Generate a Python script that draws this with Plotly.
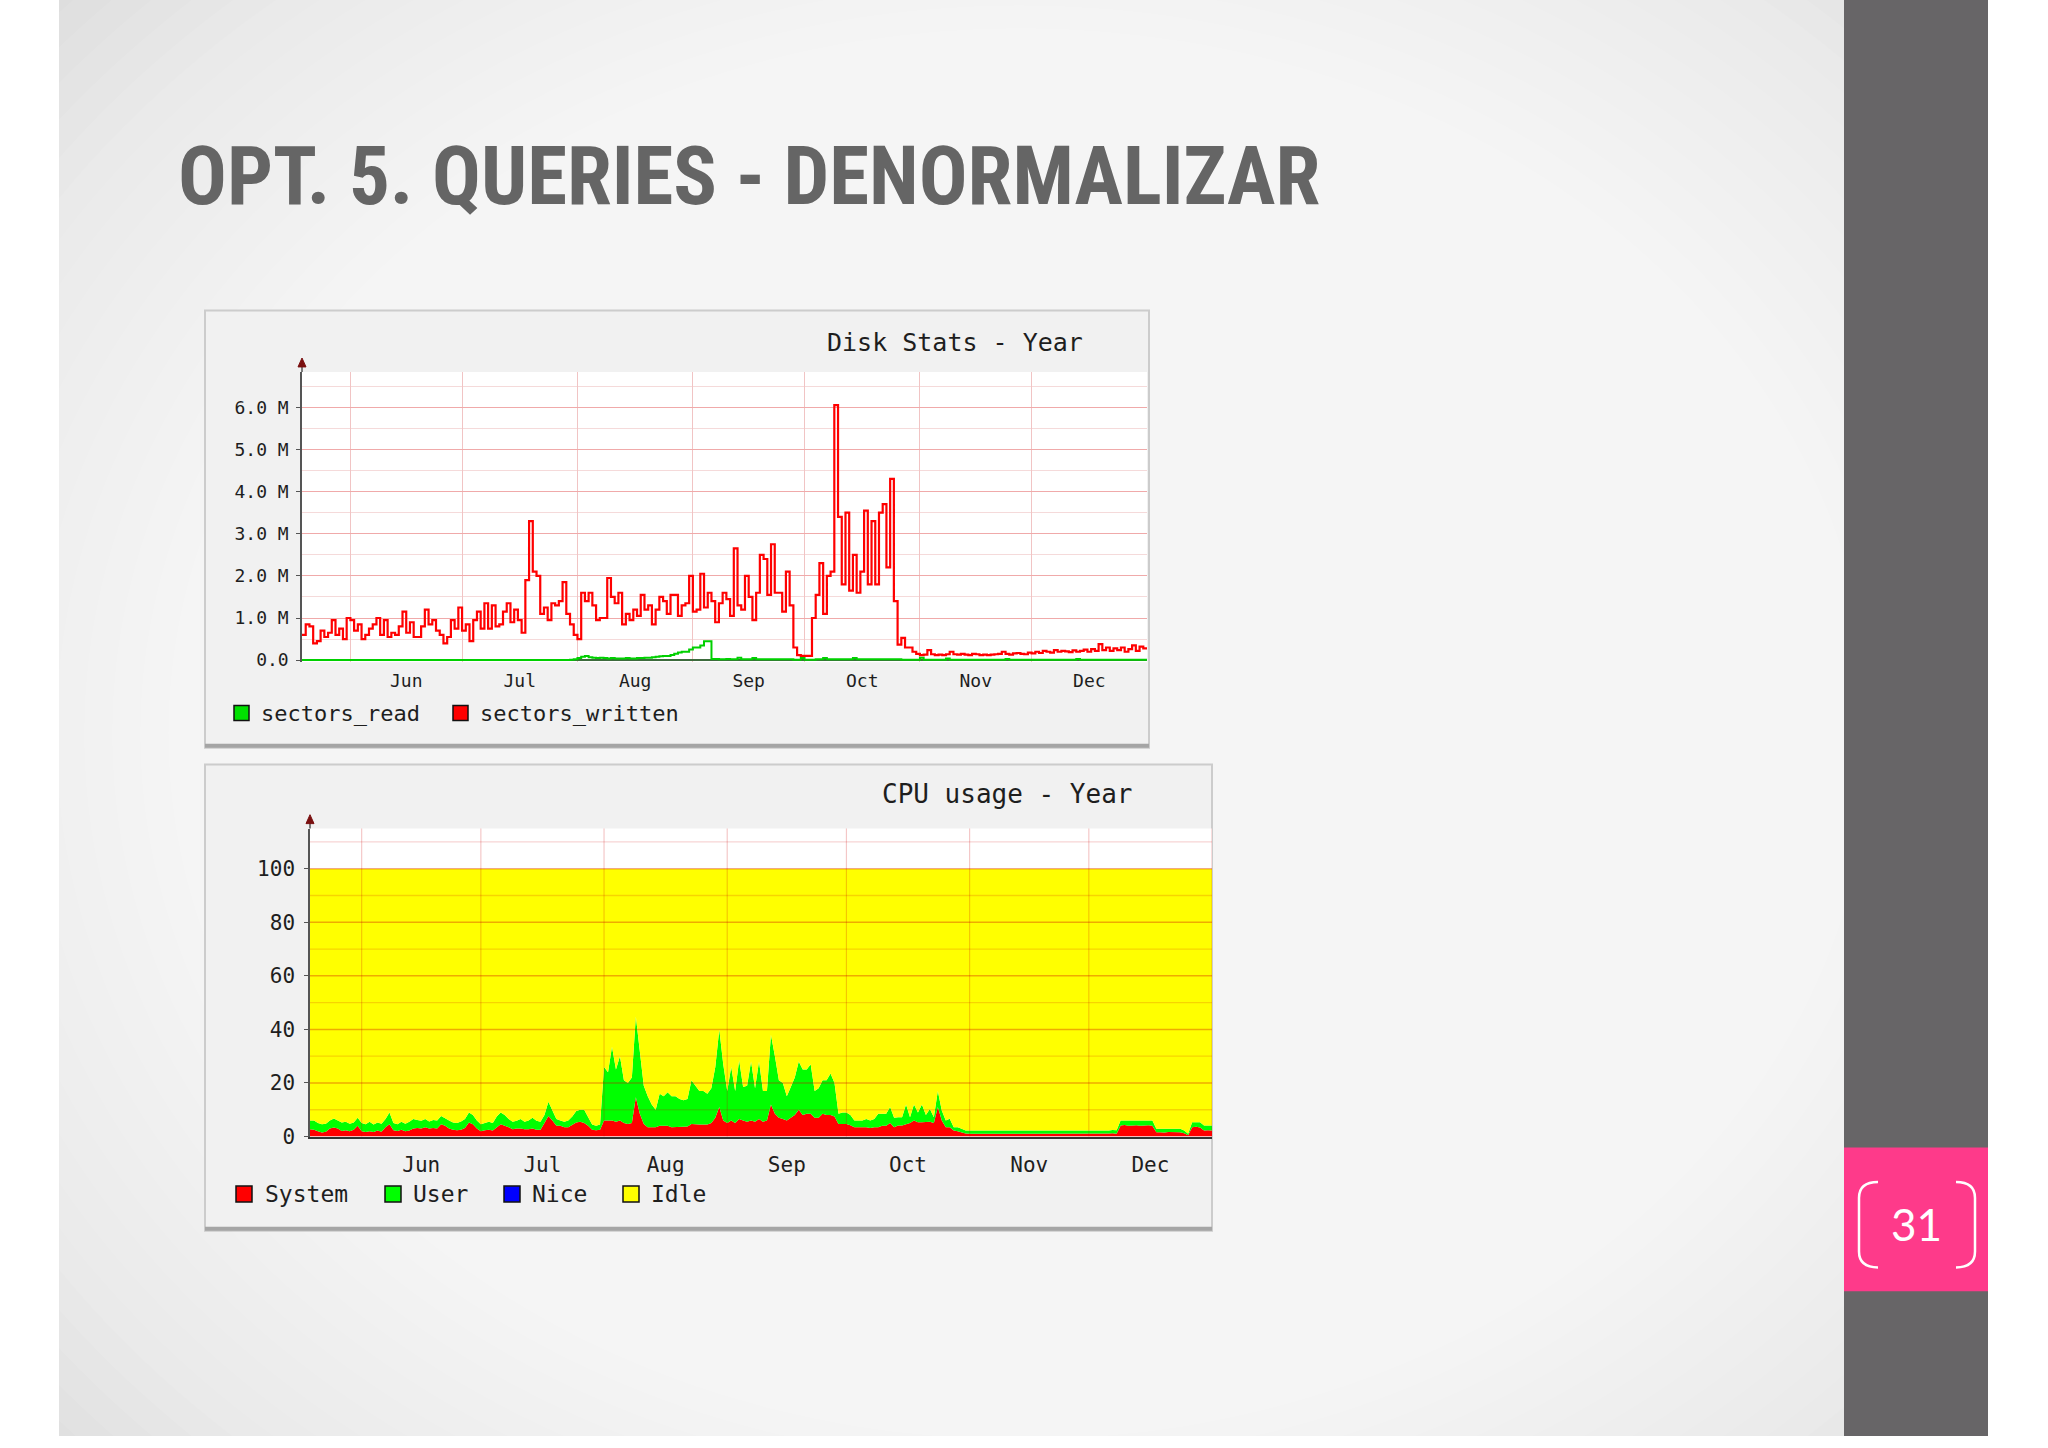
import plotly.graph_objects as go
import pandas as pd

W, H = 2048, 1448
def PX(x): return x / W
def PY(y): return 1 - y / H

START = "2012-05-19"
END = "2013-01-01"

# ---------------- data ----------------
# Disk Stats - Year, daily values in millions
sectors_written_M = [
    0.6, 0.85, 0.8, 0.4, 0.45, 0.7, 0.55, 0.65, 0.95, 0.6,
    0.75, 0.5, 1.0, 0.95, 0.7, 0.85, 0.5, 0.6, 0.75, 0.85,
    1.0, 0.6, 0.95, 0.55, 0.65, 0.6, 0.8, 1.15, 0.65, 0.9,
    0.55, 0.55, 0.8, 1.2, 0.85, 0.95, 0.7, 0.6, 0.4, 0.55,
    0.95, 0.75, 1.25, 0.7, 0.85, 0.45, 0.95, 1.15, 0.75, 1.35,
    0.75, 1.3, 0.8, 0.85, 1.15, 1.35, 0.9, 1.2, 0.95, 0.65,
    1.9, 3.3, 2.1, 2.0, 1.1, 1.25, 0.95, 1.35, 1.3, 1.4,
    1.85, 1.1, 0.85, 0.6, 0.5, 1.6, 1.4, 1.6, 1.3, 0.95,
    1.0, 1.0, 1.95, 1.5, 1.35, 1.6, 0.85, 1.1, 0.95, 1.2,
    1.05, 1.55, 1.2, 1.3, 0.85, 1.2, 1.5, 1.4, 1.1, 1.55,
    1.55, 1.05, 1.3, 1.35, 2.0, 1.15, 1.2, 2.05, 1.25, 1.6,
    1.4, 0.9, 1.35, 1.6, 1.45, 1.05, 2.65, 1.3, 1.2, 2.0,
    1.5, 0.95, 1.6, 2.5, 2.4, 1.55, 2.75, 1.6, 1.6, 1.15,
    2.1, 1.3, 0.3, 0.12, 0.1, 0.1, 0.1, 1.0, 1.55, 2.3,
    1.1, 2.0, 2.1, 6.05, 3.4, 1.8, 3.5, 1.65, 2.5, 1.6,
    2.1, 3.55, 1.8, 3.3, 1.8, 3.5, 3.7, 2.2, 4.3, 1.4,
    0.37, 0.53, 0.3, 0.3, 0.2, 0.15, 0.12, 0.13, 0.24, 0.14,
    0.12, 0.13, 0.12, 0.14, 0.2, 0.14, 0.13, 0.15, 0.13, 0.12,
    0.15, 0.14, 0.12, 0.13, 0.12, 0.13, 0.14, 0.15, 0.2, 0.15,
    0.13, 0.16, 0.17, 0.15, 0.14, 0.18, 0.16, 0.2, 0.17, 0.22,
    0.2, 0.18, 0.24, 0.2, 0.22, 0.21, 0.19, 0.23, 0.2, 0.22,
    0.25, 0.2, 0.26, 0.22, 0.38, 0.24, 0.3, 0.22, 0.28, 0.24,
    0.3, 0.2, 0.26, 0.35, 0.22, 0.32, 0.28, 0.3,
]
sectors_read_M = [
    0.005, 0.005, 0.005, 0.005, 0.005, 0.005, 0.005, 0.005, 0.005, 0.005,
    0.005, 0.005, 0.005, 0.005, 0.005, 0.005, 0.005, 0.005, 0.005, 0.005,
    0.005, 0.005, 0.005, 0.005, 0.005, 0.005, 0.005, 0.005, 0.005, 0.005,
    0.005, 0.005, 0.005, 0.005, 0.005, 0.005, 0.005, 0.005, 0.005, 0.005,
    0.005, 0.005, 0.005, 0.005, 0.005, 0.005, 0.005, 0.005, 0.005, 0.005,
    0.005, 0.005, 0.005, 0.005, 0.005, 0.005, 0.005, 0.005, 0.005, 0.005,
    0.005, 0.005, 0.005, 0.005, 0.005, 0.005, 0.005, 0.005, 0.005, 0.005,
    0.005, 0.005, 0.01, 0.02, 0.05, 0.08, 0.1, 0.07, 0.06, 0.05,
    0.06, 0.05, 0.04, 0.05, 0.04, 0.04, 0.04, 0.05, 0.04, 0.04,
    0.05, 0.05, 0.06, 0.06, 0.07, 0.08, 0.09, 0.1, 0.1, 0.12,
    0.15, 0.18, 0.2, 0.2, 0.25, 0.3, 0.3, 0.35, 0.45, 0.45,
    0.03, 0.03, 0.02, 0.02, 0.03, 0.02, 0.02, 0.06, 0.02, 0.02,
    0.02, 0.05, 0.02, 0.02, 0.02, 0.02, 0.02, 0.02, 0.02, 0.02,
    0.02, 0.02, 0.01, 0.01, 0.05, 0.01, 0.01, 0.01, 0.02, 0.02,
    0.05, 0.02, 0.02, 0.02, 0.02, 0.02, 0.02, 0.02, 0.05, 0.02,
    0.02, 0.02, 0.02, 0.02, 0.02, 0.02, 0.02, 0.02, 0.02, 0.02,
    0.02, 0.01, 0.01, 0.01, 0.01, 0.01, 0.06, 0.01, 0.01, 0.01,
    0.01, 0.01, 0.01, 0.04, 0.01, 0.01, 0.01, 0.01, 0.01, 0.01,
    0.01, 0.01, 0.01, 0.01, 0.01, 0.01, 0.01, 0.01, 0.01, 0.03,
    0.01, 0.01, 0.01, 0.01, 0.01, 0.01, 0.01, 0.01, 0.01, 0.01,
    0.01, 0.01, 0.01, 0.01, 0.01, 0.01, 0.01, 0.01, 0.03, 0.01,
    0.01, 0.01, 0.01, 0.01, 0.01, 0.01, 0.01, 0.01, 0.01, 0.01,
    0.01, 0.01, 0.01, 0.01, 0.01, 0.01, 0.01, 0.01,
]
disk_tick_vals = [0, 1e6, 2e6, 3e6, 4e6, 5e6, 6e6]
disk_tick_text = ["0.0", "1.0 M", "2.0 M", "3.0 M", "4.0 M", "5.0 M", "6.0 M"]

# CPU usage - Year, daily percentages
cpu_system = [
    2.7, 2.5, 2, 1.5, 1.8, 3, 3.4, 3, 2.1, 2.3,
    2, 2.5, 4, 2, 1.7, 2, 1.7, 2.2, 1.8, 3.5,
    4.6, 2.3, 2.1, 2.5, 2, 2.2, 3, 3.2, 3, 3.5,
    3, 3.2, 3, 4.6, 4, 3, 2.5, 2.3, 2.5, 3.2,
    5.2, 4.6, 3, 2, 2.3, 2.5, 2.2, 3.5, 4.6, 4,
    3.5, 2.7, 3, 3, 2.7, 2.7, 3, 2.5, 2.5, 5,
    7.7, 6, 4, 4, 3.5, 3.5, 4.5, 5.2, 5.5, 5,
    4, 2.5, 2.3, 2.5, 6, 6, 6, 5.5, 6, 5,
    4.7, 5, 14.7, 8.5, 4.7, 3.5, 3.5, 3.5, 4, 4,
    4, 3.5, 3.5, 3.5, 3.5, 3.7, 4.7, 4.5, 4.5, 4.5,
    4.5, 5, 7, 11, 6, 5, 6, 5, 6.5, 6,
    5.5, 6, 5.5, 6.5, 5.5, 6, 12, 8.5, 7, 6.5,
    6, 7, 8, 10, 8, 8.5, 8.5, 7, 7, 8.5,
    8, 8, 7.5, 4.7, 4.7, 4.7, 4.2, 3.5, 3.5, 3.5,
    3.5, 3.2, 3.5, 3.5, 4, 4, 5, 3.5, 4.1, 4.1,
    4.5, 5, 6, 5.3, 5.3, 5.3, 5.5, 5, 11, 6,
    3.5, 3.5, 2.2, 2, 1.6, 1.1, 1.0, 1.0, 1.1, 1.0,
    1.0, 0.9, 1.0, 1.1, 1.0, 1.0, 0.9, 1.0, 1.0, 1.1,
    1.0, 1.0, 0.9, 1.0, 1.0, 1.1, 1.0, 1.0, 0.9, 1.0,
    1.0, 1.1, 1.0, 1.0, 1.0, 0.9, 1.0, 1.1, 1.0, 1.0,
    1.0, 1.1, 1.2, 1.0, 4.1, 4.3, 4.0, 4.1, 4.2, 4.0,
    4.1, 4.2, 4.0, 1.6, 1.6, 1.5, 1.7, 1.6, 1.5, 1.6,
    1.2, 0.5, 3.5, 3.6, 3.4, 2.2, 2.3, 2.2,
]
cpu_user = [
    3.3, 3.5, 3, 3.1, 3, 3, 3.3, 3, 3.1, 3.2,
    2.8, 2.7, 3, 3, 2.9, 3.5, 2.8, 3, 3, 3,
    4.4, 2.7, 2.5, 3, 2.8, 3.3, 3.5, 3, 2.9, 3,
    2.6, 3, 3, 3.1, 3, 3, 2.7, 2.7, 3.1, 3.3,
    3.8, 3.4, 3, 2.6, 2.7, 3, 2.8, 4, 4.4, 4,
    3, 2.8, 2.9, 3.5, 2.8, 3.3, 4, 3.4, 3, 3,
    5.3, 4, 2.5, 2, 2, 2.5, 3, 4.3, 4.5, 5,
    3.5, 2, 1.7, 2, 20, 18, 27.5, 19.5, 24, 16,
    15.3, 17, 30.1, 22.5, 14.3, 11.5, 8.5, 6.5, 12, 11,
    12.5, 11.5, 11.5, 10.5, 10, 10.3, 16.3, 14.5, 12.5, 12.5,
    11.5, 13, 19, 29, 21, 12, 20, 12, 22, 12.5,
    13.5, 22, 12.5, 21.5, 11.5, 11, 26, 21.5, 14, 13.5,
    9, 11.5, 14, 18, 17, 16.5, 18.5, 10, 11, 12.5,
    13, 15.5, 12.5, 3.8, 4.3, 4.3, 3.8, 2.5, 2.5, 2.5,
    3, 2.8, 3, 5, 4.5, 4.5, 6, 3.5, 3.1, 3.1,
    7.5, 2.2, 6, 3.7, 6.7, 2.7, 4.8, 2.2, 6, 3.7,
    2.5, 3.1, 1.3, 1.5, 1.3, 1.1, 1.2, 1.2, 1.1, 1.3,
    1.2, 1.3, 1.2, 1.1, 1.2, 1.3, 1.2, 1.1, 1.3, 1.2,
    1.2, 1.1, 1.3, 1.2, 1.2, 1.1, 1.3, 1.2, 1.2, 1.1,
    1.2, 1.2, 1.3, 1.1, 1.2, 1.3, 1.2, 1.1, 1.2, 1.3,
    1.2, 1.1, 1.2, 1.3, 1.9, 1.8, 2.0, 1.9, 1.8, 2.0,
    1.9, 1.8, 2.0, 1.3, 1.3, 1.4, 1.2, 1.3, 1.4, 1.3,
    1.0, 0.5, 1.8, 1.7, 1.9, 1.9, 1.8, 1.9,
]
cpu_tick_vals = [0, 20, 40, 60, 80, 100]
cpu_tick_text = ["0", "20", "40", "60", "80", "100"]
cpu_grid_major = [20, 40, 60, 80, 100]
cpu_grid_minor = [10, 30, 50, 70, 90, 110]
month_starts = ["2012-06-01", "2012-07-01", "2012-08-01", "2012-09-01",
                "2012-10-01", "2012-11-01", "2012-12-01", "2013-01-01"]

disk_legend = [("sectors_read", "#00e000"), ("sectors_written", "#ff0000")]
cpu_legend = [("System", "#ff0000"), ("User", "#00ff00"), ("Nice", "#0000ff"), ("Idle", "#ffff00")]

MONO = "DejaVu Sans Mono"
TXT = "#1e1e1e"

# ---------------- traces ----------------
fig = go.Figure()
d_read = pd.date_range(START, periods=len(sectors_read_M), freq="D")
d_wr = pd.date_range(START, periods=len(sectors_written_M), freq="D")
fig.add_trace(go.Scatter(x=d_read, y=[v * 1e6 for v in sectors_read_M], mode="lines",
                         line=dict(color="#00d000", width=2, shape="hv"),
                         xaxis="x", yaxis="y", hoverinfo="skip", name="sectors_read"))
fig.add_trace(go.Scatter(x=d_wr, y=[v * 1e6 for v in sectors_written_M], mode="lines",
                         line=dict(color="#ff0000", width=2.2, shape="hv"),
                         xaxis="x", yaxis="y", hoverinfo="skip", name="sectors_written"))

d_cpu = pd.date_range(START, periods=len(cpu_system), freq="D")
cpu_idle = [100 - s - u for s, u in zip(cpu_system, cpu_user)]
for name, vals, col in [("System", cpu_system, "#ff0000"),
                        ("User", cpu_user, "#00ff00"),
                        ("Idle", cpu_idle, "#ffff00")]:
    fig.add_trace(go.Scatter(x=d_cpu, y=vals, mode="lines", stackgroup="cpu",
                             line=dict(width=0, color=col), fillcolor=col,
                             xaxis="x2", yaxis="y2", hoverinfo="skip", name=name))

# ---------------- shapes ----------------
shapes = []
def rect(x0, y0, x1, y1, fill, line=None, lw=0, layer="below", opacity=1):
    shapes.append(dict(type="rect", xref="paper", yref="paper",
                       x0=PX(x0), x1=PX(x1), y0=PY(y1), y1=PY(y0),
                       fillcolor=fill, line=dict(color=line or fill, width=lw),
                       layer=layer, opacity=opacity))

# slide background with soft radial highlight
rect(59, 0, 1844, 1448, "#dedede")
cx, cy = 1020, 740
for k in range(32):
    rx = 1300 - 28 * k
    ry = 1080 - 23 * k
    shapes.append(dict(type="circle", xref="paper", yref="paper",
                       x0=PX(cx - rx), x1=PX(cx + rx), y0=PY(cy + ry), y1=PY(cy - ry),
                       fillcolor="white", line=dict(width=0), layer="below", opacity=0.085))
# right bar and page number box
rect(1844, 0, 1988, 1448, "#676567")
rect(1844, 1157, 1988, 1302, "#fe3a8a")

# disk panel
rect(205, 313, 1149, 754, "#f1f1f1", "#cccccc", 2)
shapes.append(dict(type="line", xref="paper", yref="paper", x0=PX(205), x1=PX(1149),
                   y0=PY(752), y1=PY(752), line=dict(color="#a5a5a5", width=4), layer="below"))
rect(302, 375, 1147, 667.8, "white")
# cpu panel
rect(205, 771, 1212, 1241, "#f1f1f1", "#cccccc", 2)
shapes.append(dict(type="line", xref="paper", yref="paper", x0=PX(205), x1=PX(1212),
                   y0=PY(1239), y1=PY(1239), line=dict(color="#a5a5a5", width=4), layer="below"))
rect(310, 835.5, 1212, 1146, "white")

# CPU grid drawn on top of the areas (as in the original tool)
for v in cpu_grid_minor:
    shapes.append(dict(type="line", xref="x2 domain", yref="y2", x0=0, x1=1, y0=v, y1=v,
                       line=dict(color="rgba(205,0,0,0.17)", width=1.3), layer="above"))
for v in cpu_grid_major:
    shapes.append(dict(type="line", xref="x2 domain", yref="y2", x0=0, x1=1, y0=v, y1=v,
                       line=dict(color="rgba(205,0,0,0.33)", width=1.5), layer="above"))
for m in month_starts:
    shapes.append(dict(type="line", xref="x2", yref="y2 domain", x0=m, x1=m, y0=0, y1=1,
                       line=dict(color="rgba(205,0,0,0.22)", width=1.2), layer="above"))

# y-axis arrows
for ax_x, top in [(302, 375), (310, 835.5)]:
    shapes.append(dict(type="line", xref="paper", yref="paper", x0=PX(ax_x), x1=PX(ax_x),
                       y0=PY(top), y1=PY(top - 10), line=dict(color="#555555", width=1.5),
                       layer="above"))
    shapes.append(dict(type="path", xref="paper", yref="paper",
                       path=f"M {PX(ax_x)},{PY(top - 14)} L {PX(ax_x - 4)},{PY(top - 5)} "
                            f"L {PX(ax_x + 4)},{PY(top - 5)} Z",
                       fillcolor="#7a1010", line=dict(color="#7a1010", width=1), layer="above"))

# page-number brackets
def bracket(x_edge, x_tip):
    return (f"M {PX(x_tip)},{PY(1192)} Q {PX(x_edge)},{PY(1192)} {PX(x_edge)},{PY(1208)} "
            f"L {PX(x_edge)},{PY(1262)} Q {PX(x_edge)},{PY(1278)} {PX(x_tip)},{PY(1278)}")
for xe, xt in [(1859, 1878), (1975, 1956)]:
    shapes.append(dict(type="path", xref="paper", yref="paper", path=bracket(xe, xt),
                       line=dict(color="white", width=2.5), layer="above"))

# ---------------- annotations ----------------
ann = []
def text(x, y, s, size, color=TXT, family=MONO, xanchor="left", weight="normal"):
    ann.append(dict(x=PX(x), y=PY(y), xref="paper", yref="paper", text=s, showarrow=False,
                    xanchor=xanchor, yanchor="middle",
                    font=dict(family=family, size=size, color=color, weight=weight)))

text(176, 178, "OPT. 5. QUERIES - DENORMALIZAR", 81, color="#656565",
     family="Roboto Condensed, Roboto, Liberation Sans, sans-serif", weight="bold")
text(1916, 1234, "31", 44, color="white", family="Lato, Open Sans, sans-serif", xanchor="center")
text(955, 345, "Disk Stats - Year", 25, xanchor="center")
text(1007, 801, "CPU usage - Year", 26, xanchor="center")

# legends (square swatch + label)
def legend(items, x_sq, x_txt, yc, sq, size):
    for (lab, col), xs, xt in zip(items, x_sq, x_txt):
        shapes.append(dict(type="rect", xref="paper", yref="paper",
                           x0=PX(xs), x1=PX(xs + sq), y0=PY(yc + sq / 2), y1=PY(yc - sq / 2),
                           fillcolor=col, line=dict(color="#111111", width=1.5), layer="above"))
        text(xt, yc, lab, size)

legend(disk_legend, [234, 453], [259, 478], 719, 15, 22)
legend(cpu_legend, [236, 385, 504, 623], [263, 411, 530, 649], 1204, 16, 23)

# ---------------- layout ----------------
tick_font_disk = dict(family=MONO, size=18, color=TXT)
tick_font_cpu = dict(family=MONO, size=21, color=TXT)

fig.update_layout(
    width=W, height=H, autosize=False,
    margin=dict(l=0, r=0, t=0, b=0, pad=0),
    paper_bgcolor="white", plot_bgcolor="rgba(0,0,0,0)",
    showlegend=False, shapes=shapes, annotations=ann,
    xaxis=dict(domain=[PX(302), PX(1147)], anchor="y", type="date", range=[START, END],
               dtick="M1", tickformat="%b", ticklabelmode="period",
               showgrid=True, gridcolor="#f1c4c4", gridwidth=1.2,
               ticks="", showline=False, zeroline=False,
               tickfont=tick_font_disk, ticklabelstandoff=6, fixedrange=True),
    yaxis=dict(domain=[PY(667.8), PY(375)], anchor="x", range=[-0.05e6, 6.84e6],
               tickmode="array", tickvals=disk_tick_vals, ticktext=disk_tick_text,
               showgrid=True, gridcolor="#f0aaaa", gridwidth=1.3,
               minor=dict(dtick=0.5e6, tick0=0, showgrid=True, gridcolor="#f5dada", gridwidth=1),
               zeroline=True, zerolinecolor="#3d6b3d", zerolinewidth=2,
               showline=True, linecolor="#555555", linewidth=1.5,
               ticks="outside", ticklen=4, tickcolor="#555555",
               tickfont=tick_font_disk, ticklabelstandoff=4, fixedrange=True),
    xaxis2=dict(domain=[PX(310), PX(1212)], anchor="y2", type="date", range=[START, END],
                dtick="M1", tickformat="%b", ticklabelmode="period",
                showgrid=False, ticks="", zeroline=False,
                showline=True, linecolor="#333333", linewidth=2,
                tickfont=tick_font_cpu, ticklabelstandoff=8, fixedrange=True),
    yaxis2=dict(domain=[PY(1146), PY(835.5)], anchor="x2", range=[0, 115],
                tickmode="array", tickvals=cpu_tick_vals, ticktext=cpu_tick_text,
                showgrid=False, zeroline=False,
                showline=True, linecolor="#555555", linewidth=1.5,
                ticks="outside", ticklen=4, tickcolor="#555555",
                tickfont=tick_font_cpu, ticklabelstandoff=5, fixedrange=True),
)

fig.write_html("out.html", config={"displayModeBar": False, "responsive": False},
               post_script="document.body.style.margin='0px';document.body.style.overflow='hidden';")
